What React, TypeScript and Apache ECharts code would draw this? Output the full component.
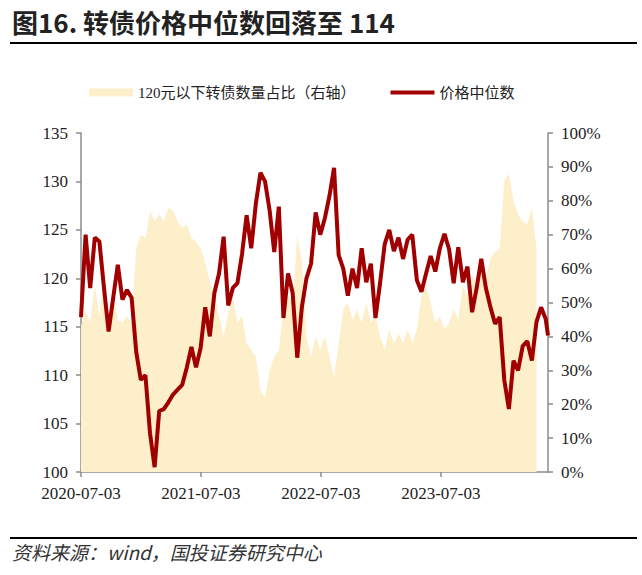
import React, { useEffect, useRef } from "react";
import * as echarts from "echarts";

const START = "2020-07-03";
const dates = [
  "2020-07-03","2020-07-17","2020-07-31","2020-08-14","2020-08-28","2020-09-11","2020-09-25","2020-10-09","2020-10-23","2020-11-06","2020-11-20","2020-12-04","2020-12-18",
  "2021-01-01","2021-01-15","2021-01-29","2021-02-12","2021-02-26","2021-03-12","2021-03-26","2021-04-09","2021-04-23","2021-05-07","2021-05-21","2021-06-04","2021-06-18","2021-07-02","2021-07-16","2021-07-30","2021-08-13","2021-08-27","2021-09-10","2021-09-24","2021-10-08","2021-10-22","2021-11-05","2021-11-19","2021-12-03","2021-12-17","2021-12-31",
  "2022-01-14","2022-01-28","2022-02-11","2022-02-25","2022-03-11","2022-03-25","2022-04-08","2022-04-22","2022-05-06","2022-05-20","2022-06-03","2022-06-17","2022-07-01","2022-07-15","2022-07-29","2022-08-12","2022-08-26","2022-09-09","2022-09-23","2022-10-07","2022-10-21","2022-11-04","2022-11-18","2022-12-02","2022-12-16","2022-12-30",
  "2023-01-13","2023-01-27","2023-02-10","2023-02-24","2023-03-10","2023-03-24","2023-04-07","2023-04-21","2023-05-05","2023-05-19","2023-06-02","2023-06-16","2023-06-30","2023-07-14","2023-07-28","2023-08-11","2023-08-25","2023-09-08","2023-09-22","2023-10-06","2023-10-20","2023-11-03","2023-11-17","2023-12-01","2023-12-15","2023-12-29",
  "2024-01-12","2024-01-26","2024-02-09","2024-02-23","2024-03-08","2024-03-22","2024-04-05","2024-04-19","2024-05-03","2024-05-17","2024-05-24"
];

const priceMedian = [
  116, 124.5, 119, 124.2, 123.8, 119, 114.5, 118, 121.4, 117.8,
  118.8, 118, 112.4, 109.5, 110, 104, 100.5, 106.3, 106.5, 107.2,
  108, 108.5, 109, 110.8, 112.9, 110.8, 112.8, 117, 114, 118.5,
  120.5, 124.3, 117.2, 119, 119.5, 122.5, 126.5, 123.1, 127.7, 130.9,
  130, 127, 122.7, 127.4, 115.9, 120.5, 118.5, 111.8, 117, 120,
  121.5, 126.8, 124.5, 126.2, 128.5, 131.4, 122.4, 121, 118.2, 121,
  119, 123.1, 119.6, 121.5, 115.9, 119.5, 123.5, 125, 122.8, 124.2,
  122, 124, 124.5, 119.8, 118.6, 120.5, 122.3, 120.7, 123.1, 124.6,
  123, 119.5, 123.2, 119.6, 121.2, 116.5, 119, 122, 119, 117,
  115.3, 116, 109.5, 106.5, 111.5, 110.5, 113, 113.5, 111.5, 115.5,
  117, 115.8, 114.1
];

const below120Ratio = [
  43, 48, 44, 55, 46, 58, 44, 52, 45, 44,
  46, 44, 66, 70, 69, 77, 74, 76, 74, 78,
  77, 74, 72, 73, 69, 68, 66, 62, 56, 52,
  46, 40, 47, 52, 44, 46, 38, 36, 34, 24,
  22, 30, 34, 36, 48, 52, 50, 70, 62, 40,
  34, 40, 36, 40, 34, 28, 38, 48, 50, 45,
  48, 44, 50, 44, 46, 40, 36, 42, 38, 41,
  38, 42, 38, 42, 52, 55, 50, 44, 46, 42,
  44, 48, 45, 55, 52, 58, 56, 60, 57, 63,
  65, 66, 86, 88, 80, 76, 74, 73, 78, 66
];

const leftTicks = { min: 100, max: 135, interval: 5 };
const rightTicks = { min: 0, max: 100, interval: 10 };

const DAY = 86400000;
const startMs = Date.parse(START);
const toDay = (d: string) => Math.round((Date.parse(d) - startMs) / DAY);
const fmtDay = (v: number) => {
  const dt = new Date(startMs + v * DAY);
  const m = String(dt.getUTCMonth() + 1).padStart(2, "0");
  const d = String(dt.getUTCDate()).padStart(2, "0");
  return `${dt.getUTCFullYear()}-${m}-${d}`;
};

const SERIF = "'Liberation Serif', 'Noto Sans CJK SC', serif";
const AXIS_COLOR = "#8c8c8c";
const AREA_COLOR = "#FEEFCB";
const LINE_COLOR = "#A00000";

export default function App() {
  const ref = useRef<HTMLDivElement>(null);
  useEffect(() => {
    document.body.style.margin = "0";
    if (!ref.current) return;
    const chart = echarts.init(ref.current, undefined, { renderer: "svg" });
    const priceData = priceMedian.map((v, i) => [toDay(dates[i]), v]);
    const ratioData = below120Ratio.map((v, i) => [toDay(dates[i]), v]);
    const lastDay = toDay(dates[dates.length - 1]);
    chart.setOption({
      animation: false,
      backgroundColor: "#ffffff",
      graphic: [
        {
          type: "text",
          left: 12,
          top: 8,
          style: {
            text: "图16. 转债价格中位数回落至 114",
            font: "bold 26px 'Noto Sans CJK SC', sans-serif",
            fill: "#222",
          },
        },
        {
          type: "line",
          shape: { x1: 10, y1: 43, x2: 637, y2: 43 },
          style: { stroke: "#000", lineWidth: 2 },
        },
        {
          type: "line",
          shape: { x1: 10, y1: 538, x2: 637, y2: 538 },
          style: { stroke: "#000", lineWidth: 2 },
        },
        {
          type: "text",
          left: 12,
          top: 542,
          style: {
            text: "资料来源：wind，国投证券研究中心",
            font: "italic 19px 'Noto Sans CJK SC', sans-serif",
            fill: "#333",
          },
        },
      ],
      legend: {
        left: 84,
        top: 80,
        itemWidth: 44,
        itemHeight: 8,
        itemGap: 35,
        textStyle: { fontFamily: SERIF, fontSize: 15, color: "#222" },
        data: [
          { name: "120元以下转债数量占比（右轴）", icon: "rect", itemStyle: { color: AREA_COLOR } },
          { name: "价格中位数", icon: "path://M0,0H44V4H0Z", itemStyle: { color: LINE_COLOR } },
        ],
      },
      grid: { left: 81, right: 94, top: 133, bottom: 103, containLabel: false },
      xAxis: {
        type: "value",
        min: 0,
        max: lastDay,
        interval: 365,
        splitLine: { show: false },
        axisLine: { show: true, lineStyle: { color: AXIS_COLOR, width: 1.5 } },
        axisTick: { show: true, length: 5, lineStyle: { color: AXIS_COLOR, width: 1.5 } },
        axisLabel: {
          formatter: (v: number) => fmtDay(v),
          showMaxLabel: false,
          margin: 13,
          fontFamily: SERIF,
          fontSize: 17,
          color: "#222",
        },
      },
      yAxis: [
        {
          type: "value",
          position: "left",
          ...leftTicks,
          splitLine: { show: false },
          axisLine: { show: true, lineStyle: { color: AXIS_COLOR, width: 1.5 } },
          axisTick: { show: true, length: 5, lineStyle: { color: AXIS_COLOR, width: 1.5 } },
          axisLabel: { margin: 13, fontFamily: SERIF, fontSize: 17, color: "#222" },
        },
        {
          type: "value",
          position: "right",
          ...rightTicks,
          splitLine: { show: false },
          axisLine: { show: true, lineStyle: { color: AXIS_COLOR, width: 1.5 } },
          axisTick: { show: true, length: 5, lineStyle: { color: AXIS_COLOR, width: 1.5 } },
          axisLabel: { margin: 13, formatter: "{value}%", fontFamily: SERIF, fontSize: 17, color: "#222" },
        },
      ],
      series: [
        {
          name: "120元以下转债数量占比（右轴）",
          type: "line",
          yAxisIndex: 1,
          data: ratioData,
          symbol: "none",
          lineStyle: { width: 0 },
          itemStyle: { color: AREA_COLOR },
          areaStyle: { color: AREA_COLOR, opacity: 1 },
          z: 1,
        },
        {
          name: "价格中位数",
          type: "line",
          yAxisIndex: 0,
          data: priceData,
          symbol: "none",
          showSymbol: false,
          lineStyle: { width: 4, color: LINE_COLOR },
          itemStyle: { color: LINE_COLOR },
          z: 3,
        },
      ],
    });
    return () => chart.dispose();
  }, []);
  return <div ref={ref} style={{ width: 642, height: 575 }} />;
}
